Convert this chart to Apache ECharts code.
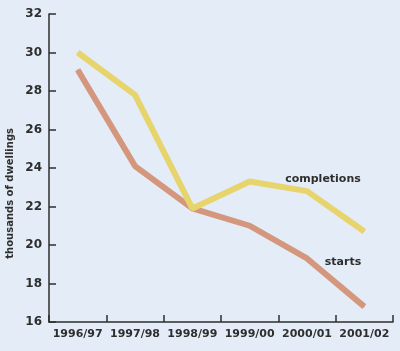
<!DOCTYPE html>
<html>
<head>
<meta charset="utf-8">
<script src="https://cdn.jsdelivr.net/npm/echarts@6/dist/echarts.min.js"></script>
<style>
  html, body { margin: 0; padding: 0; background: #e4edf7; }
  #chart { width: 400px; height: 351px; }
</style>
</head>
<body>
<div id="chart"></div>
<script>
var years = ['1996/97', '1997/98', '1998/99', '1999/00', '2000/01', '2001/02'];
var completions = [30.0, 27.8, 21.9, 23.3, 22.8, 20.7];
var starts = [29.1, 24.1, 21.9, 21.0, 19.3, 16.8];
var yTicks = [16, 18, 20, 22, 24, 26, 28, 30, 32];

var dom = document.getElementById('chart');
var myChart = echarts.init(dom);
var font = 'DejaVu Sans';
var ink = '#2e2e2e';

// label one point of each line, like the printed chart
function withLabel(arr, idx, text, offset) {
    return arr.map(function (v, i) {
        if (i !== idx) return v;
        return {
            value: v,
            label: {
                show: true,
                formatter: text,
                position: 'top',
                offset: offset,
                color: ink,
                fontFamily: font,
                fontWeight: 'bold',
                fontSize: 11
            }
        };
    });
}

var option = {
    backgroundColor: '#e4edf7',
    animation: false,
    grid: { left: 49, right: 7, top: 14, bottom: 29 },
    xAxis: {
        type: 'category',
        data: years,
        boundaryGap: true,
        axisLine: { show: true, lineStyle: { color: ink, width: 1.5 } },
        axisTick: { show: true, inside: true, length: 7, interval: 0, lineStyle: { color: ink, width: 1.5 } },
        axisLabel: { interval: 0, color: ink, fontFamily: font, fontWeight: 'bold', fontSize: 11, margin: 7 }
    },
    yAxis: {
        type: 'value',
        min: yTicks[0],
        max: yTicks[yTicks.length - 1],
        interval: 2,
        splitLine: { show: false },
        axisLine: { show: true, lineStyle: { color: ink, width: 1.5 } },
        axisTick: { show: true, inside: true, length: 7, lineStyle: { color: ink, width: 1.5 } },
        axisLabel: { color: ink, fontFamily: font, fontWeight: 'bold', fontSize: 12, margin: 7 }
    },
    graphic: [{
        type: 'text',
        left: 5,
        top: 128,
        rotation: Math.PI / 2,
        style: {
            text: 'thousands of dwellings',
            fill: ink,
            font: 'bold 10px "DejaVu Sans"'
        }
    }],
    series: [
        {
            name: 'completions',
            type: 'line',
            data: withLabel(completions, 4, 'completions', [16, -1]),
            symbol: 'circle',
            symbolSize: 1,
            lineStyle: { color: '#e8d46c', width: 6 },
            itemStyle: { color: '#e8d46c' },
            z: 3
        },
        {
            name: 'starts',
            type: 'line',
            data: withLabel(starts, 4, 'starts', [36, 15]),
            symbol: 'circle',
            symbolSize: 1,
            lineStyle: { color: '#d4977e', width: 6 },
            itemStyle: { color: '#d4977e' },
            z: 2
        }
    ]
};

if (option && typeof option === "object") {
    myChart.setOption(option, true);
}
</script>
</body>
</html>
